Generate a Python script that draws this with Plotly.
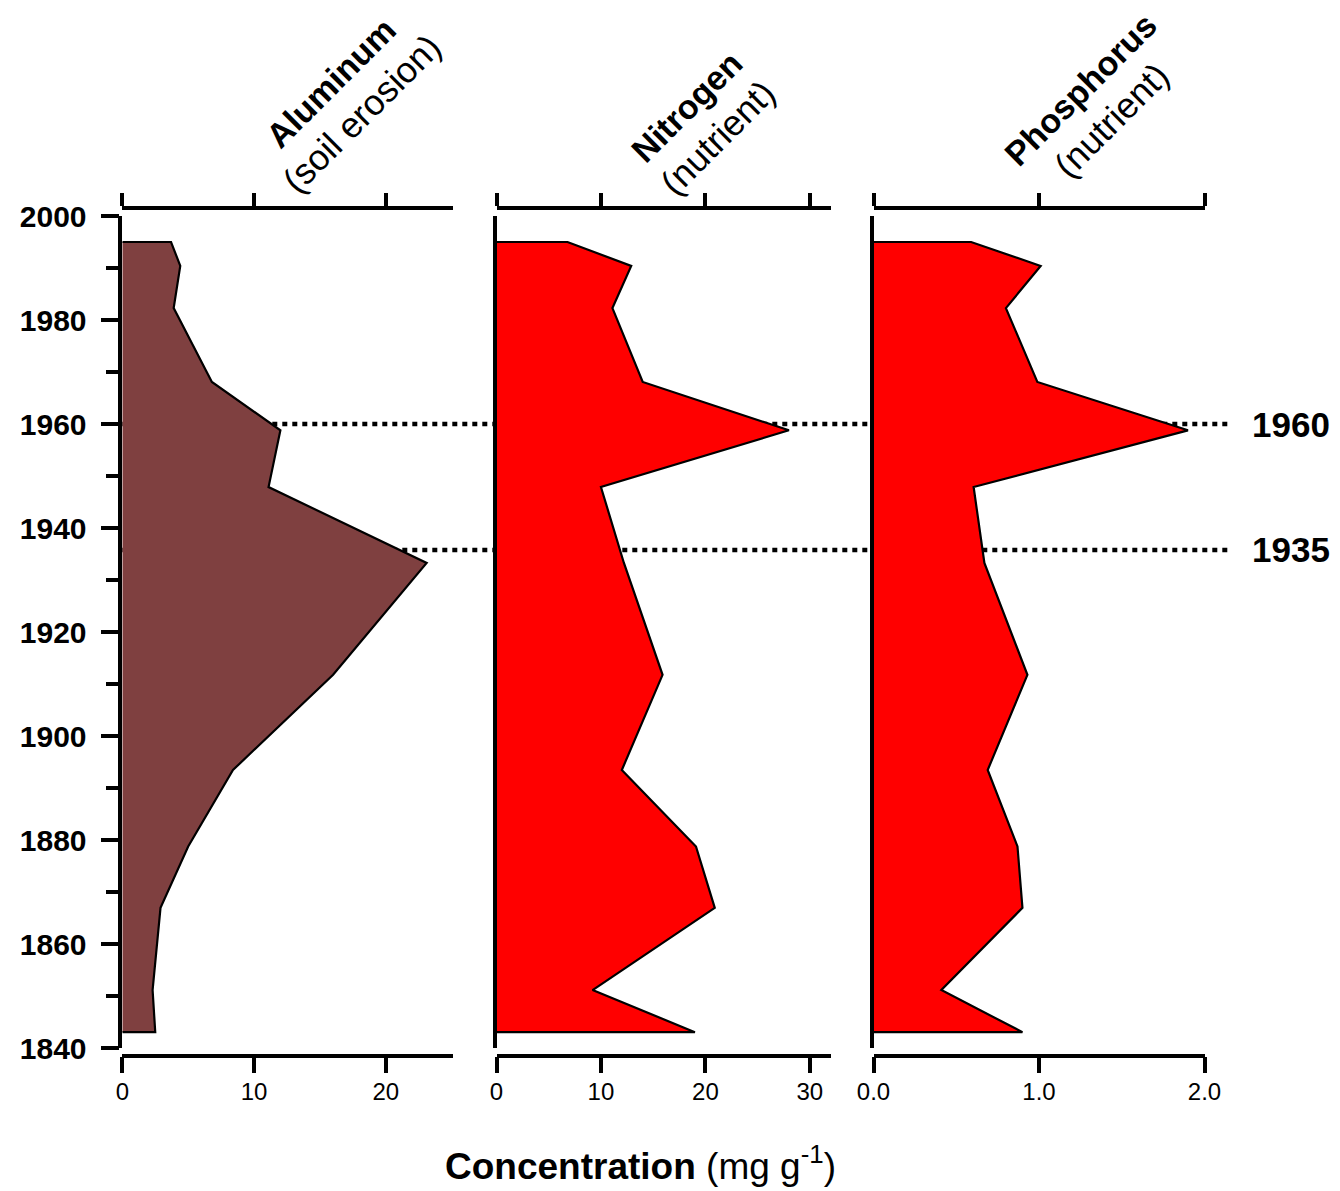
import plotly.graph_objects as go

# ---------------- data ----------------
years = [1995.0, 1990.4, 1982.3, 1968.1, 1958.8, 1947.9, 1933.3,
         1911.8, 1893.5, 1878.8, 1867.0, 1851.2, 1843.1]
aluminum = [3.7, 4.4, 3.9, 6.8, 12.0, 11.1, 23.1, 16.0, 8.4, 5.0, 2.9, 2.3, 2.5]
nitrogen = [6.8, 12.9, 11.1, 14.0, 28.0, 10.0, 12.2, 15.9, 12.0, 19.1, 20.9, 9.2, 19.0]
phosphorus = [0.59, 1.01, 0.80, 0.99, 1.90, 0.605, 0.67, 0.93, 0.69, 0.87, 0.90, 0.41, 0.90]

panel_names = ["Aluminum", "Nitrogen", "Phosphorus"]
panel_notes = ["soil erosion", "nutrient", "nutrient"]
panel_colors = ["#7F4040", "#FF0000", "#FF0000"]
x_max = [25.1, 32.0, 2.0]
x_tickvals = [[0, 10, 20], [0, 10, 20, 30], [0, 1, 2]]
x_ticktext = [["0", "10", "20"], ["0", "10", "20", "30"], ["0.0", "1.0", "2.0"]]
year_ticks = [1840, 1860, 1880, 1900, 1920, 1940, 1960, 1980, 2000]
event_years = [1960, 1935.8]
event_labels = ["1960", "1935"]
x_title_bold = "Concentration"
x_title_unit = "(mg g<sup>-1</sup>)"

series = [aluminum, nitrogen, phosphorus]

# ---------------- layout geometry (pixels in the screenshot) ----------------
W, H = 1340, 1191
OFF = 8  # page body margin offset of the figure
FONT = "Liberation Sans, Arial, Helvetica, sans-serif"


def fx(p):
    return (p - OFF) / W


def fy(p):
    return 1 - (p - OFF) / H


panel_px = [(122.3, 453.0), (496.5, 830.7), (873.5, 1204.5)]
y_dom = [fy(1048.3), fy(216.0)]
bottom_pos = fy(1055.5)
top_pos = fy(207.5)

fig = go.Figure()

for i, vals in enumerate(series):
    sfx = "" if i == 0 else str(i + 1)
    xs = [0] + list(vals) + [0]
    ys = [years[0]] + list(years) + [years[-1]]
    fig.add_trace(go.Scatter(
        x=xs, y=ys, mode="lines", fill="toself",
        fillcolor=panel_colors[i],
        line=dict(color="black", width=2.2),
        xaxis="x" + sfx, yaxis="y" + sfx,
        showlegend=False, hoverinfo="skip",
    ))

layout = dict(
    template="none",
    width=W, height=H,
    margin=dict(l=0, r=0, t=0, b=0, pad=0, autoexpand=False),
    paper_bgcolor="white",
    plot_bgcolor="rgba(0,0,0,0)",
    font=dict(family=FONT, color="black"),
    showlegend=False,
)

axis_common = dict(showgrid=False, zeroline=False, showline=True,
                   linecolor="black", linewidth=3.5, fixedrange=True,
                   automargin=False)

for i in range(3):
    sfx = "" if i == 0 else str(i + 1)
    d0, d1 = panel_px[i]
    dom = [fx(d0), fx(d1)]
    # bottom x axis (labelled)
    layout["xaxis" + sfx] = dict(
        axis_common, domain=dom, range=[0, x_max[i]], anchor="free",
        position=bottom_pos, side="bottom",
        tickmode="array", tickvals=x_tickvals[i], ticktext=x_ticktext[i],
        ticks="outside", ticklen=16, tickwidth=3.5, tickcolor="black",
        tickfont=dict(size=24, family=FONT, color="black"),
        ticklabelstandoff=-2,
    )
    # top x axis (ticks only)
    top_name = "xaxis" + str(i + 4)
    layout[top_name] = dict(
        axis_common, domain=dom, range=[0, x_max[i]], anchor="free",
        position=top_pos, side="top", overlaying="x" + sfx,
        tickmode="array", tickvals=x_tickvals[i],
        ticks="outside", ticklen=13, tickwidth=3.5, tickcolor="black",
        showticklabels=False,
    )
    # y axes
    if i == 0:
        layout["yaxis"] = dict(
            axis_common, domain=y_dom, range=[1840, 2000], anchor="x",
            tickmode="array", tickvals=year_ticks,
            ticktext=[str(v) for v in year_ticks],
            ticks="outside", ticklen=18, tickwidth=3.5, tickcolor="black",
            tickfont=dict(size=30, family=FONT, color="black", weight="bold"),
            ticklabelstandoff=8,
            minor=dict(dtick=10, tick0=1840, ticks="outside", ticklen=12.5,
                       tickwidth=3.5, tickcolor="black", showgrid=False),
        )
    else:
        layout["yaxis" + sfx] = dict(
            axis_common, domain=y_dom, range=[1840, 2000], anchor="x" + sfx,
            ticks="", showticklabels=False,
        )

# empty traces so the overlaid top axes are drawn
for i in range(3):
    fig.add_trace(go.Scatter(x=[None], y=[None], xaxis="x" + str(i + 4),
                             yaxis="y" if i == 0 else "y" + str(i + 1),
                             mode="lines", showlegend=False, hoverinfo="skip"))

fig.update_layout(**layout)

# dotted event lines (drawn below the filled profiles)
for yr in event_years:
    fig.add_shape(type="line", xref="paper", yref="y",
                  x0=fx(122.3), x1=fx(1232), y0=yr, y1=yr,
                  line=dict(color="black", width=4.5, dash="5px,5px"),
                  layer="below")

for yr, lab in zip(event_years, event_labels):
    fig.add_annotation(x=fx(1250), y=yr, xref="paper", yref="y",
                       text="<b>" + lab + "</b>", showarrow=False,
                       xanchor="left", yanchor="middle",
                       font=dict(size=35, family=FONT, color="black"))

# rotated panel titles
title_centers = [(347, 99), (703, 123), (1096, 105)]
for i in range(3):
    cx, cy = title_centers[i]
    fig.add_annotation(x=fx(cx), y=fy(cy), xref="paper", yref="paper",
                       text="<b>" + panel_names[i] + "</b><br>"
                            "<span style='font-size:36px'>(" + panel_notes[i] + ")</span>",
                       showarrow=False, textangle=-45, align="center",
                       xanchor="center", yanchor="middle",
                       font=dict(size=34, family=FONT, color="black"))

# bottom axis title
fig.add_annotation(x=fx(640), y=fy(1163), xref="paper", yref="paper",
                   text="<b>" + x_title_bold + "</b> " + x_title_unit,
                   showarrow=False, xanchor="center", yanchor="middle",
                   font=dict(size=37, family=FONT, color="black"))

fig.write_html("out.html")
